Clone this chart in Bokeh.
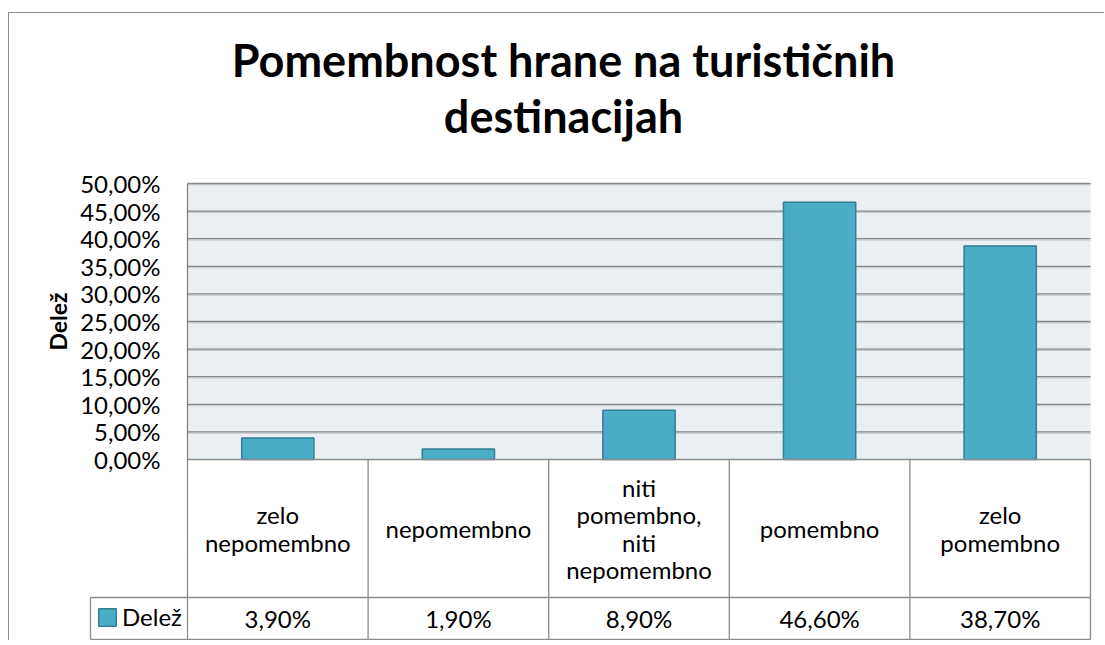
import textwrap
from bokeh.plotting import figure
from bokeh.models import Range1d, FixedTicker, Title, ColumnDataSource, Legend, LegendItem
from bokeh.embed import file_html
from bokeh.resources import INLINE
from bokeh.core.properties import value

# ---------------- data ----------------
title_lines = ["Pomembnost hrane na turističnih", "destinacijah"]
categories = ["zelo nepomembno", "nepomembno", "niti pomembno, niti nepomembno",
              "pomembno", "zelo pomembno"]
shares = [3.9, 1.9, 8.9, 46.6, 38.7]
series_name = "Delež"
y_axis_title = "Delež"
y_ticks = [0, 5, 10, 15, 20, 25, 30, 35, 40, 45, 50]

# ---------------- style ----------------
FONT = "Lato"
BAR_FILL = "#4bacc6"
BAR_LINE = "#357d91"
PLOT_BG = "#e9eff2"
GRID = "#868686"
GRID_SHADOW = "#c4c9cc"
TABLE_LINE = "#8c8c8c"
TXT = "#000000"
BORDER = "1px solid #8c8c8c"

def pct(v):
    return f"{v:.2f}".replace(".", ",") + "%"

y_tick_labels = {t: pct(t) for t in y_ticks}
cat_labels = ["\n".join(textwrap.wrap(c, 10)) for c in categories]
value_labels = [pct(v) for v in shares]
n = len(categories)
xs = list(range(n))

FIG_W = 1096
UNIT = 903 / n          # px per category
PXU = 276 / 50          # px per percent point
Y_MAX = y_ticks[-1]

ROW_LINE = -138 / PXU   # line between the category row and the value row
TBL_BOTTOM = -180 / PXU
LEG_L = -0.5 - 97 / UNIT  # left edge of the legend-key column
x_lo = -0.5 - 153 / UNIT
x_hi = n - 0.5 + 2 / UNIT
y_lo = -182 / PXU
y_hi = Y_MAX + 41 / PXU

p = figure(width=FIG_W, height=628, title=None,
           x_range=Range1d(x_lo, x_hi), y_range=Range1d(y_lo, y_hi),
           output_backend="svg", toolbar_location=None, x_axis_location=None,
           min_border_left=25, min_border_right=13,
           min_border_top=129, min_border_bottom=0,
           margin=(12, 0, 0, 8),
           styles={"border-left": BORDER, "border-top": BORDER})
p.outline_line_color = None
p.background_fill_color = "white"
p.border_fill_color = "white"
p.grid.visible = False

# titles (two centred lines)
p.add_layout(Title(text=title_lines[1], align="center", standoff=0,
                   text_font=FONT, text_font_size="45px", text_font_style="bold",
                   text_color=TXT), "above")
p.add_layout(Title(text=title_lines[0], align="center", standoff=0,
                   text_font=FONT, text_font_size="45px", text_font_style="bold",
                   text_color=TXT), "above")

# plot-area background and horizontal grid lines
p.quad(left=[-0.5], right=[n - 0.5], bottom=[0], top=[Y_MAX],
       fill_color=PLOT_BG, line_color=None)
grid_ticks = [t for t in y_ticks if t > 0]
p.segment(x0=[-0.5] * len(grid_ticks), x1=[n - 0.5] * len(grid_ticks),
          y0=[t - 1.4 / PXU for t in grid_ticks], y1=[t - 1.4 / PXU for t in grid_ticks],
          line_color=GRID_SHADOW, line_width=1)
p.segment(x0=[-0.5] * len(grid_ticks), x1=[n - 0.5] * len(grid_ticks),
          y0=grid_ticks, y1=grid_ticks, line_color=GRID, line_width=1.3)

src = ColumnDataSource(dict(x=xs, top=shares))
bars = p.vbar(x="x", top="top", width=0.4, source=src, fill_color=BAR_FILL,
              line_color=BAR_LINE, line_width=1.5)

ax = p.yaxis[0]
ax.fixed_location = -0.5
ax.bounds = (0, Y_MAX)
ax.ticker = FixedTicker(ticks=y_ticks)
ax.major_label_overrides = y_tick_labels
ax.major_tick_in = 0
ax.major_tick_out = 0
ax.minor_tick_in = 0
ax.minor_tick_out = 0
ax.axis_line_color = GRID
ax.axis_line_width = 1.3
ax.major_label_standoff = 27
ax.major_label_text_font = FONT
ax.major_label_text_font_size = "24px"
ax.major_label_text_color = TXT
ax.axis_label = y_axis_title
ax.axis_label_text_font = FONT
ax.axis_label_text_font_size = "23px"
ax.axis_label_text_font_style = "bold"
ax.axis_label_text_color = TXT
ax.axis_label_standoff = 5

# data table grid lines
right = n - 0.5
bounds_x = [i - 0.5 for i in range(n + 1)]
x0s = [-0.5, LEG_L, LEG_L, LEG_L] + bounds_x
x1s = [right, right, right, LEG_L] + bounds_x
y0s = [0, ROW_LINE, TBL_BOTTOM, TBL_BOTTOM] + [TBL_BOTTOM] * (n + 1)
y1s = [0, ROW_LINE, TBL_BOTTOM, ROW_LINE] + [0] * (n + 1)
p.segment(x0=x0s, y0=y0s, x1=x1s, y1=y1s, line_color=TABLE_LINE, line_width=1.3)

p.text(x=xs, y=[ROW_LINE / 2] * n, text=cat_labels,
       text_font=value(FONT), text_font_size="24px", text_color=TXT,
       text_align="center", text_baseline="middle", text_line_height=0.95)
p.text(x=xs, y=[(ROW_LINE + TBL_BOTTOM) / 2] * n, text=value_labels,
       text_font=value(FONT), text_font_size="24px", text_color=TXT,
       text_align="center", text_baseline="middle")

# legend key inside the table's first column
leg = Legend(items=[LegendItem(label=series_name, renderers=[bars])],
             location=(62, 10), orientation="vertical", margin=0, padding=6,
             spacing=0, glyph_width=22, glyph_height=22, label_height=22,
             label_standoff=4,
             label_text_font=FONT, label_text_font_size="24px", label_text_color=TXT,
             border_line_color=None, background_fill_alpha=0.0)
p.add_layout(leg)

open("out.html", "w").write(file_html(p, INLINE))
